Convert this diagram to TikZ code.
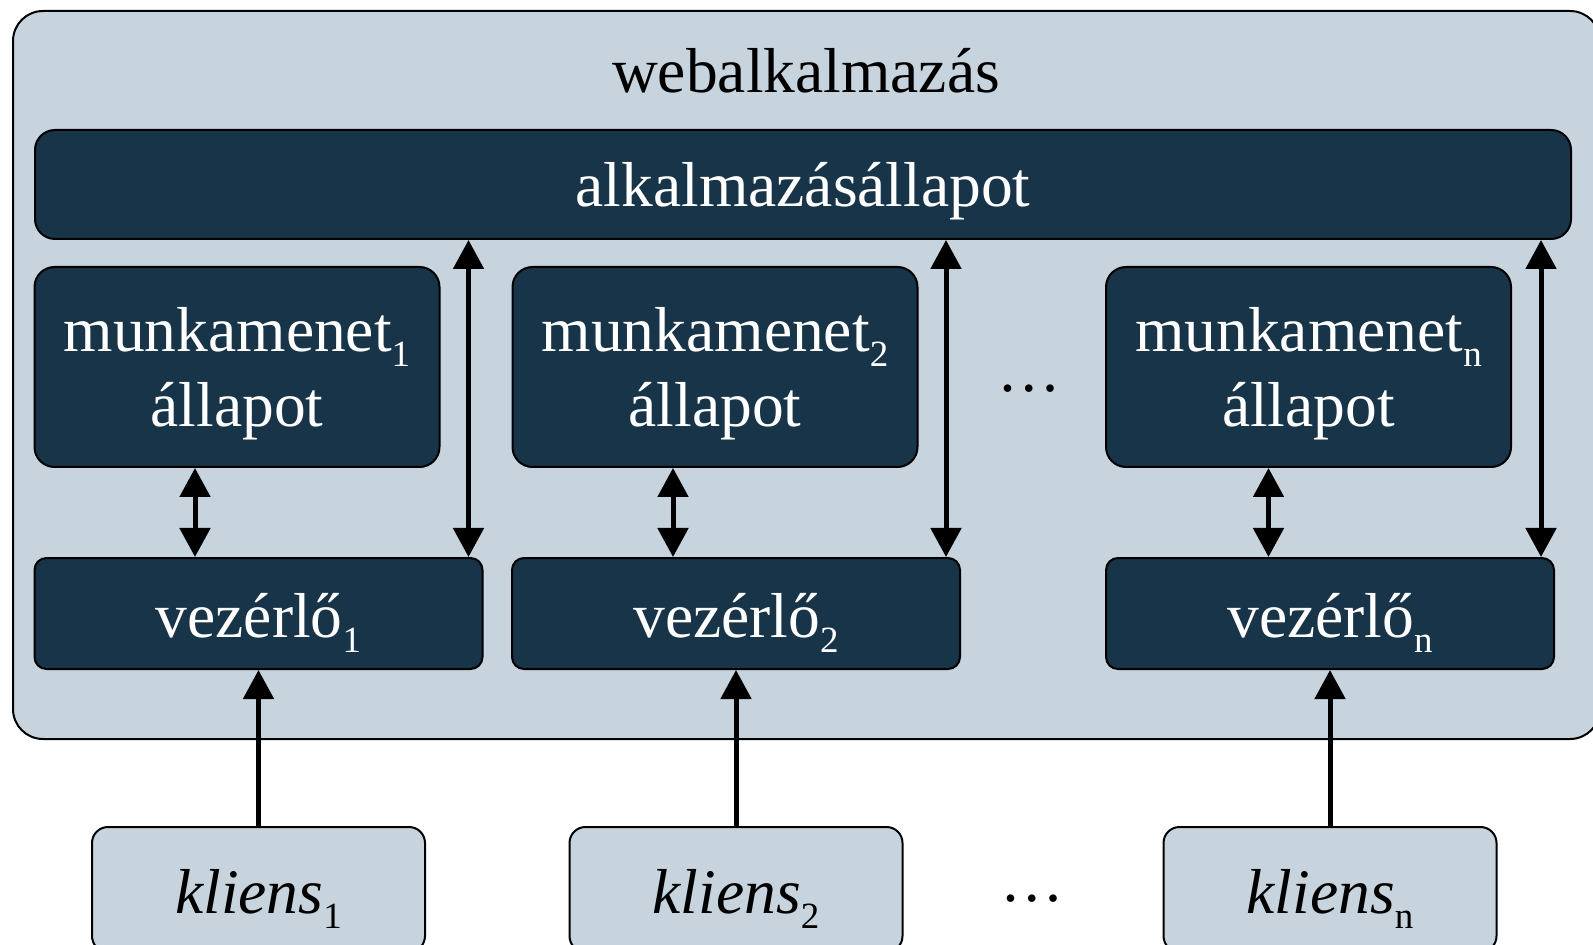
\documentclass[tikz,border=0pt]{standalone}
\usepackage{fontspec}
\setmainfont{Liberation Serif}
\usetikzlibrary{arrows.meta}

\definecolor{appdark}{RGB}{24,52,73}
\definecolor{applight}{RGB}{199,212,221}

%lowered index after a word
\newcommand{\idx}[1]{\raisebox{-7.5pt}{\fontsize{18.5}{20}\selectfont #1}}

\begin{document}
\begin{tikzpicture}[x=0.5pt,y=-0.5pt,
  bigfont/.style={font=\fontsize{31.75}{37.5}\selectfont},
  webbox/.style={draw=black,line width=1pt,fill=applight,rounded corners=15pt},
  darkbox/.style={draw=black,line width=1pt,fill=appdark,text=white,bigfont,
                  text height=28pt,text depth=4pt},
  statebox/.style={darkbox,rounded corners=10pt,minimum width=202.5pt,
                   minimum height=100pt,align=center,text height=64pt},
  ctrlbox/.style={darkbox,rounded corners=6pt,minimum width=224pt,minimum height=55.5pt},
  clientbox/.style={draw=black,line width=1pt,fill=applight,rounded corners=8pt,bigfont,
                    text height=28pt,text depth=4pt,minimum width=166.5pt,minimum height=62.5pt},
  arr/.style={line width=2.5pt,-{Triangle[width=15pt,length=14.5pt]}},
  biarr/.style={line width=2.5pt,{Triangle[width=15pt,length=14.5pt]}-{Triangle[width=15pt,length=14.5pt]}}]

\useasboundingbox (0,0) rectangle (1593,945);

% Web application frame
\node[webbox,minimum width=793.5pt,minimum height=364pt] (web) at (806.5,375) {};
\node[bigfont,anchor=base] (title) at (806,93) {webalkalmazás};

% Application state
\node[darkbox,rounded corners=10pt,minimum width=768pt,minimum height=54.5pt,
      text depth=5.5pt] (app) at (803,184.5) {alkalmazásállapot};

% Session states
\node[statebox] (munk1) at (237,367) {munkamenet\idx{1}\\állapot};
\node[statebox] (munk2) at (715,367) {munkamenet\idx{2}\\állapot};
\node[statebox] (munkn) at (1308.5,367) {munkamenet\idx{n}\\állapot};

% Controllers
\node[ctrlbox] (vez1) at (258.5,613.5) {vezérlő\idx{1}};
\node[ctrlbox] (vez2) at (736,613.5) {vezérlő\idx{2}};
\node[ctrlbox] (vezn) at (1330,613.5) {vezérlő\idx{n}};

% Clients
\node[clientbox] (kl1) at (258.5,889.5) {\textit{kliens}\idx{1}};
\node[clientbox] (kl2) at (736,889.5) {\textit{kliens}\idx{2}};
\node[clientbox] (kln) at (1330,889.5) {\textit{kliens}\idx{n}};

% Dots
\node[bigfont,anchor=base] (dots1) at (1029,392) {\ldots};
\node[bigfont,anchor=base] (dots2) at (1032,901) {\ldots};

% Session <-> controller
\draw[biarr] ([xshift=-21pt]munk1.south) -- ([xshift=-21pt]munk1.south |- vez1.north);
\draw[biarr] ([xshift=-21pt]munk2.south) -- ([xshift=-21pt]munk2.south |- vez2.north);
\draw[biarr] ([xshift=-20pt]munkn.south) -- ([xshift=-20pt]munkn.south |- vezn.north);

% Application state <-> controller
\draw[biarr] ([xshift=-7.5pt]vez1.north east) -- ([xshift=-7.5pt]vez1.north east |- app.south);
\draw[biarr] ([xshift=-7.5pt]vez2.north east) -- ([xshift=-7.5pt]vez2.north east |- app.south);
\draw[biarr] ([xshift=-7pt]vezn.north east) -- ([xshift=-7pt]vezn.north east |- app.south);

% Client -> controller
\draw[arr] (kl1.north) -- (vez1.south);
\draw[arr] (kl2.north) -- (vez2.south);
\draw[arr] (kln.north) -- (vezn.south);

\end{tikzpicture}
\end{document}
